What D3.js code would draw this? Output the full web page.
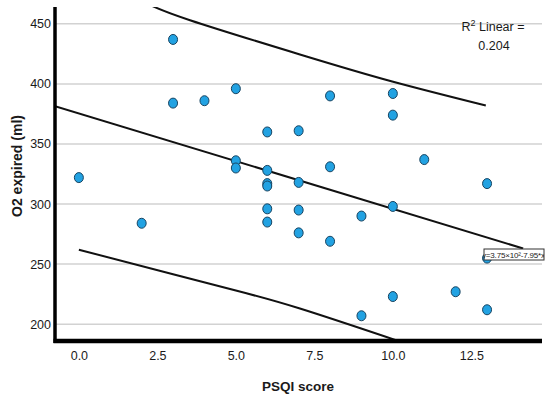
<!DOCTYPE html>
<html lang="en">
<head>
    <meta charset="UTF-8">
    <title>O2 expired vs PSQI score</title>
    <style>
        body { margin: 0; background: #fff; }
        text { font-family: "Liberation Sans", Arial, sans-serif; fill: #1a1a1a; }
    </style>
</head>
<body>
    <svg id="chart" width="550" height="398"></svg>

    <script src="https://d3js.org/d3.v7.min.js"></script>
    <script>
        // scatter data
        const psqi = [0, 2, 3, 3, 4, 5, 5, 5, 6, 6, 6, 6, 6, 6, 7, 7, 7, 7, 8, 8, 8, 9, 9, 10, 10, 10, 10, 11, 12, 13, 13, 13];
        const o2 = [322, 284, 437, 384, 386, 396, 336, 330, 360, 328, 317, 315, 296, 285, 361, 318, 295, 276, 390, 331, 269, 290, 207, 392, 374, 298, 223, 337, 227, 317, 255, 212];

        // fit line and prediction interval lines
        const fitX = [-0.76, 14.15];
        const fitY = [381.5, 263];
        const upperX = [2.2, 3.54, 7.04, 9.98, 12.96];
        const upperY = [466.5, 453, 424.5, 402, 382];
        const lowerX = [0, 3, 5, 7.04, 10.4];
        const lowerY = [262, 241.5, 228, 213, 184];

        const xTicks = [0, 2.5, 5, 7.5, 10, 12.5];
        const yTicks = [200, 250, 300, 350, 400, 450];

        const svg = d3.select("#chart");

        const plotLeft = 55, plotRight = 542, plotTop = 7, plotBottom = 341;

        const x = d3.scaleLinear().domain([-0.76, 14.75]).range([plotLeft, plotRight]);
        const y = d3.scaleLinear().domain([186, 464]).range([plotBottom, plotTop]);

        svg.append("clipPath").attr("id", "plot")
            .append("rect")
            .attr("x", plotLeft).attr("y", plotTop)
            .attr("width", plotRight - plotLeft).attr("height", plotBottom - plotTop);

        // gridlines
        svg.append("g")
            .selectAll("line")
            .data(yTicks)
            .join("line")
            .attr("x1", plotLeft)
            .attr("x2", plotRight)
            .attr("y1", d => y(d))
            .attr("y2", d => y(d))
            .attr("stroke", "#d2d2d2")
            .attr("stroke-width", 1.5);

        // tick labels via axes
        const yAxis = d3.axisLeft(y).tickValues(yTicks).tickSize(0).tickPadding(4).tickFormat(d3.format("d"));
        const xAxis = d3.axisBottom(x).tickValues(xTicks).tickSize(0).tickPadding(10).tickFormat(d3.format(".1f"));

        const gy = svg.append("g").attr("transform", `translate(${plotLeft},0)`).call(yAxis);
        const gx = svg.append("g").attr("transform", `translate(0,${plotBottom})`).call(xAxis);
        [gy, gx].forEach(g => {
            g.select(".domain").remove();
            g.selectAll("text")
                .style("font-family", "'Liberation Sans', Arial, sans-serif")
                .style("font-size", "12.5px")
                .attr("fill", "#1a1a1a");
        });

        // lines
        const line = d3.line().x(d => x(d[0])).y(d => y(d[1])).curve(d3.curveNatural);
        const lines = svg.append("g").attr("clip-path", "url(#plot)");
        [[fitX, fitY], [upperX, upperY], [lowerX, lowerY]].forEach(([xs, ys]) => {
            lines.append("path")
                .attr("d", line(xs.map((v, i) => [v, ys[i]])))
                .attr("fill", "none")
                .attr("stroke", "#111")
                .attr("stroke-width", 2);
        });

        // points
        svg.append("g")
            .selectAll("ellipse")
            .data(psqi.map((v, i) => [v, o2[i]]))
            .join("ellipse")
            .attr("cx", d => x(d[0]))
            .attr("cy", d => y(d[1]))
            .attr("rx", 4.5)
            .attr("ry", 5)
            .attr("fill", "#22a2e2")
            .attr("stroke", "#184461")
            .attr("stroke-width", 1);

        // axis lines
        svg.append("line")
            .attr("x1", plotLeft).attr("x2", plotLeft)
            .attr("y1", plotTop).attr("y2", plotBottom + 2)
            .attr("stroke", "#000").attr("stroke-width", 3.5);
        svg.append("line")
            .attr("x1", plotLeft - 1.5).attr("x2", plotRight)
            .attr("y1", plotBottom).attr("y2", plotBottom)
            .attr("stroke", "#000").attr("stroke-width", 4.5);

        // axis titles
        svg.append("text")
            .attr("x", 298).attr("y", 391)
            .attr("text-anchor", "middle")
            .style("font-size", "13.5px")
            .style("font-weight", "bold")
            .text("PSQI score");
        svg.append("text")
            .attr("transform", "translate(22,166) rotate(-90)")
            .attr("text-anchor", "middle")
            .style("font-size", "14px")
            .style("font-weight", "bold")
            .text("O2 expired (ml)");

        // R squared
        const r2 = svg.append("text")
            .attr("x", 493).attr("y", 31)
            .attr("text-anchor", "middle")
            .style("font-size", "12.5px");
        r2.append("tspan").text("R");
        r2.append("tspan").attr("dy", -5).style("font-size", "9px").text("2");
        r2.append("tspan").attr("dy", 5).text("  Linear =");
        svg.append("text")
            .attr("x", 494).attr("y", 50)
            .attr("text-anchor", "middle")
            .style("font-size", "12.5px")
            .text("0.204");

        // equation label
        svg.append("clipPath").attr("id", "eqbox")
            .append("rect").attr("x", 484).attr("y", 249).attr("width", 60).attr("height", 11);
        svg.append("rect")
            .attr("x", 484).attr("y", 249).attr("width", 60).attr("height", 11)
            .attr("fill", "#fff").attr("stroke", "#333").attr("stroke-width", 1);
        svg.append("text")
            .attr("clip-path", "url(#eqbox)")
            .attr("x", 482).attr("y", 258)
            .style("font-size", "8px")
            .attr("textLength", 63)
            .text("y=3.75×10²-7.95*x");
    </script>
</body>
</html>
